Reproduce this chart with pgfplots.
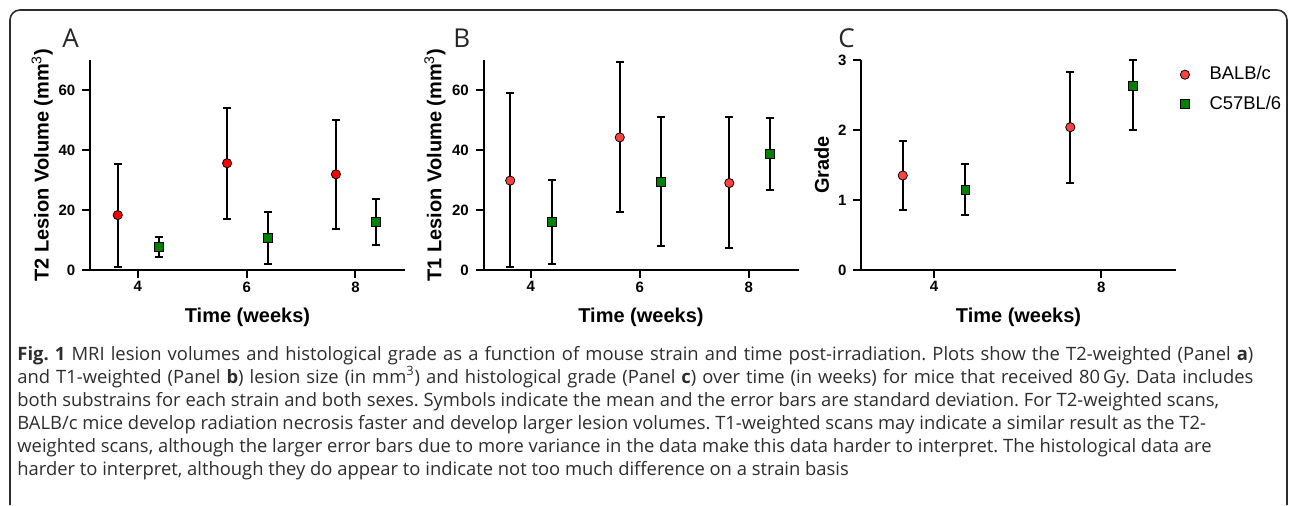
\documentclass[border=0pt]{standalone}
\usepackage{pgfplots}
\usepackage{pgfplotstable}
\pgfplotsset{compat=1.18}
\usepackage{fontspec}
\setmainfont{Liberation Sans}
\newfontfamily\capfont{Open Sans}
\frenchspacing

\definecolor{redA}{RGB}{250,0,0}
\definecolor{redB}{RGB}{255,66,66}
\definecolor{grn}{RGB}{0,128,0}
\definecolor{capgray}{RGB}{45,45,45}

% x  mean  low  high
\pgfplotstableread{
x y lo hi
3.63 18.3 1.1 35.5
5.64 35.6 17.0 54.0
7.64 31.9 13.8 50.0
}\tabAbalb
\pgfplotstableread{
x y lo hi
4.38 7.7 4.5 11.1
6.39 10.6 2.0 19.5
8.38 16.1 8.3 23.8
}\tabAcfs
\pgfplotstableread{
x y lo hi
3.62 29.8 1.0 58.9
5.63 44.2 19.2 69.4
7.64 29.0 7.2 51.0
}\tabBbalb
\pgfplotstableread{
x y lo hi
4.38 16.0 2.1 29.9
6.39 29.4 8.0 51.0
8.39 38.6 26.7 50.6
}\tabBcfs
\pgfplotstableread{
x y lo hi
3.25 1.35 0.86 1.84
7.26 2.04 1.24 2.83
}\tabCbalb
\pgfplotstableread{
x y lo hi
4.75 1.14 0.78 1.52
8.76 2.63 2.00 3.00
}\tabCcfs

\pgfplotsset{
  panel/.style={
    scale only axis, width=157.5pt, height=105pt, anchor=south west,
    axis lines=left, axis line style={-, line width=1pt, black},
    tick style={line width=1pt, black}, tick align=outside,
    major tick length=3.8pt, clip=false,
    /pgf/number format/assume math mode=true,
    ticklabel style={font=\bfseries\fontsize{7.5}{7.5}\selectfont},
    xticklabel style={yshift=1.5pt},
    every axis x label/.style={at={(axis description cs:0.5,-0.224)}, anchor=center,
      font=\bfseries\fontsize{10}{10}\selectfont},
    ymin=0,
  },
  ylab/.style={every axis y label/.style={at={(axis description cs:#1,0.5)}, rotate=90, anchor=center,
      font=\bfseries\fontsize{10}{10}\selectfont}},
  errs/.style={draw=none, mark=none, forget plot,
    error bars/y dir=both, error bars/y explicit,
    error bars/error bar style={draw=black, line width=1pt},
    error bars/error mark options={draw=black, line width=1pt, rotate=90, mark size=2pt}},
  balb/.style={only marks, mark=*, mark size=2.3pt, mark options={draw=none, fill=#1}},
  cfs/.style={only marks, mark=square*, mark size=2.2pt, mark options={draw=none, fill=grn}},
  table/errtab/.style={x=x, y=y,
    y error plus expr=\thisrow{hi}-\thisrow{y},
    y error minus expr=\thisrow{y}-\thisrow{lo}},
}

\begin{document}
\begin{tikzpicture}
\useasboundingbox (0,0) rectangle (645pt,-252.5pt);
\draw[capgray, line width=0.8pt, rounded corners=5pt] (5pt,-252.5pt) -- (5pt,-5pt) -- (643.5pt,-5pt) -- (643.5pt,-252.5pt);

\node[anchor=base west, inner sep=0pt, font=\capfont\fontsize{13}{13}\selectfont, text=black!85] at (31pt,-23.5pt) {A};
\node[anchor=base west, inner sep=0pt, font=\capfont\fontsize{13}{13}\selectfont, text=black!85] at (226.5pt,-23.5pt) {B};
\node[anchor=base west, inner sep=0pt, font=\capfont\fontsize{13}{13}\selectfont, text=black!85] at (419pt,-23.5pt) {C};

\begin{axis}[panel, ylab=-0.152, at={(45pt,-135pt)},
  xmin=3.12, xmax=8.91, ymax=70, xtick={4,6,8}, ytick={0,20,40,60},
  xlabel={Time (weeks)},
  ylabel={T2 Lesion Volume (mm\textsuperscript{\mdseries 3})}]
\addplot[errs] table[errtab] {\tabAbalb};
\addplot[errs] table[errtab] {\tabAcfs};
\addplot[balb=redA] table[x=x,y=y] {\tabAbalb};
\addplot[cfs] table[x=x,y=y] {\tabAcfs};
\end{axis}

\begin{axis}[panel, ylab=-0.154, at={(241.75pt,-135pt)},
  xmin=3.13, xmax=8.91, ymax=70, xtick={4,6,8}, ytick={0,20,40,60},
  xlabel={Time (weeks)},
  ylabel={T1 Lesion Volume (mm\textsuperscript{\mdseries 3})}]
\addplot[errs] table[errtab] {\tabBbalb};
\addplot[errs] table[errtab] {\tabBcfs};
\addplot[balb=redB] table[x=x,y=y] {\tabBbalb};
\addplot[cfs] table[x=x,y=y] {\tabBcfs};
\end{axis}

\begin{axis}[panel, ylab=-0.1245, at={(430.5pt,-135pt)},
  xmin=2.25, xmax=9.79, ymax=3, xtick={4,8}, ytick={0,1,2,3},
  xlabel={Time (weeks)}, ylabel={Grade},
  legend image code/.code={\draw[#1] plot coordinates {(0pt,0pt)};},
  legend style={at={(axis description cs:1.0125,0.99)}, anchor=north west, draw=none, fill=none,
    font=\fontsize{9.2}{9.2}\selectfont, row sep=2.5pt, inner sep=0pt,
    /tikz/every odd column/.append style={column sep=8pt}},
  legend cell align=left]
\addplot[errs] table[errtab] {\tabCbalb};
\addplot[errs] table[errtab] {\tabCcfs};
\addplot[balb=redB] table[x=x,y=y] {\tabCbalb};
\addplot[cfs] table[x=x,y=y] {\tabCcfs};
\legend{BALB/c, C57BL/6}
\end{axis}

\node[anchor=base west, align=left, text=capgray, font=\capfont\fontsize{9.2}{11.5}\selectfont, inner sep=0pt] at (8.5pt,-237.5pt) {%
\makebox[618pt][s]{\textbf{Fig.\ 1} MRI lesion volumes and histological grade as a function of mouse strain and time post-irradiation. Plots show the T2-weighted (Panel \textbf{a})}\\
\makebox[618pt][s]{and T1-weighted (Panel \textbf{b}) lesion size (in mm\textsuperscript{3}) and histological grade (Panel \textbf{c}) over time (in weeks) for mice that received 80\,Gy. Data includes}\\
both substrains for each strain and both sexes. Symbols indicate the mean and the error bars are standard deviation. For T2-weighted scans,\\
BALB/c mice develop radiation necrosis faster and develop larger lesion volumes. T1-weighted scans may indicate a similar result as the T2-\\
weighted scans, although the larger error bars due to more variance in the data make this data harder to interpret. The histological data are\\
harder to interpret, although they do appear to indicate not too much difference on a strain basis};
\end{tikzpicture}
\end{document}
